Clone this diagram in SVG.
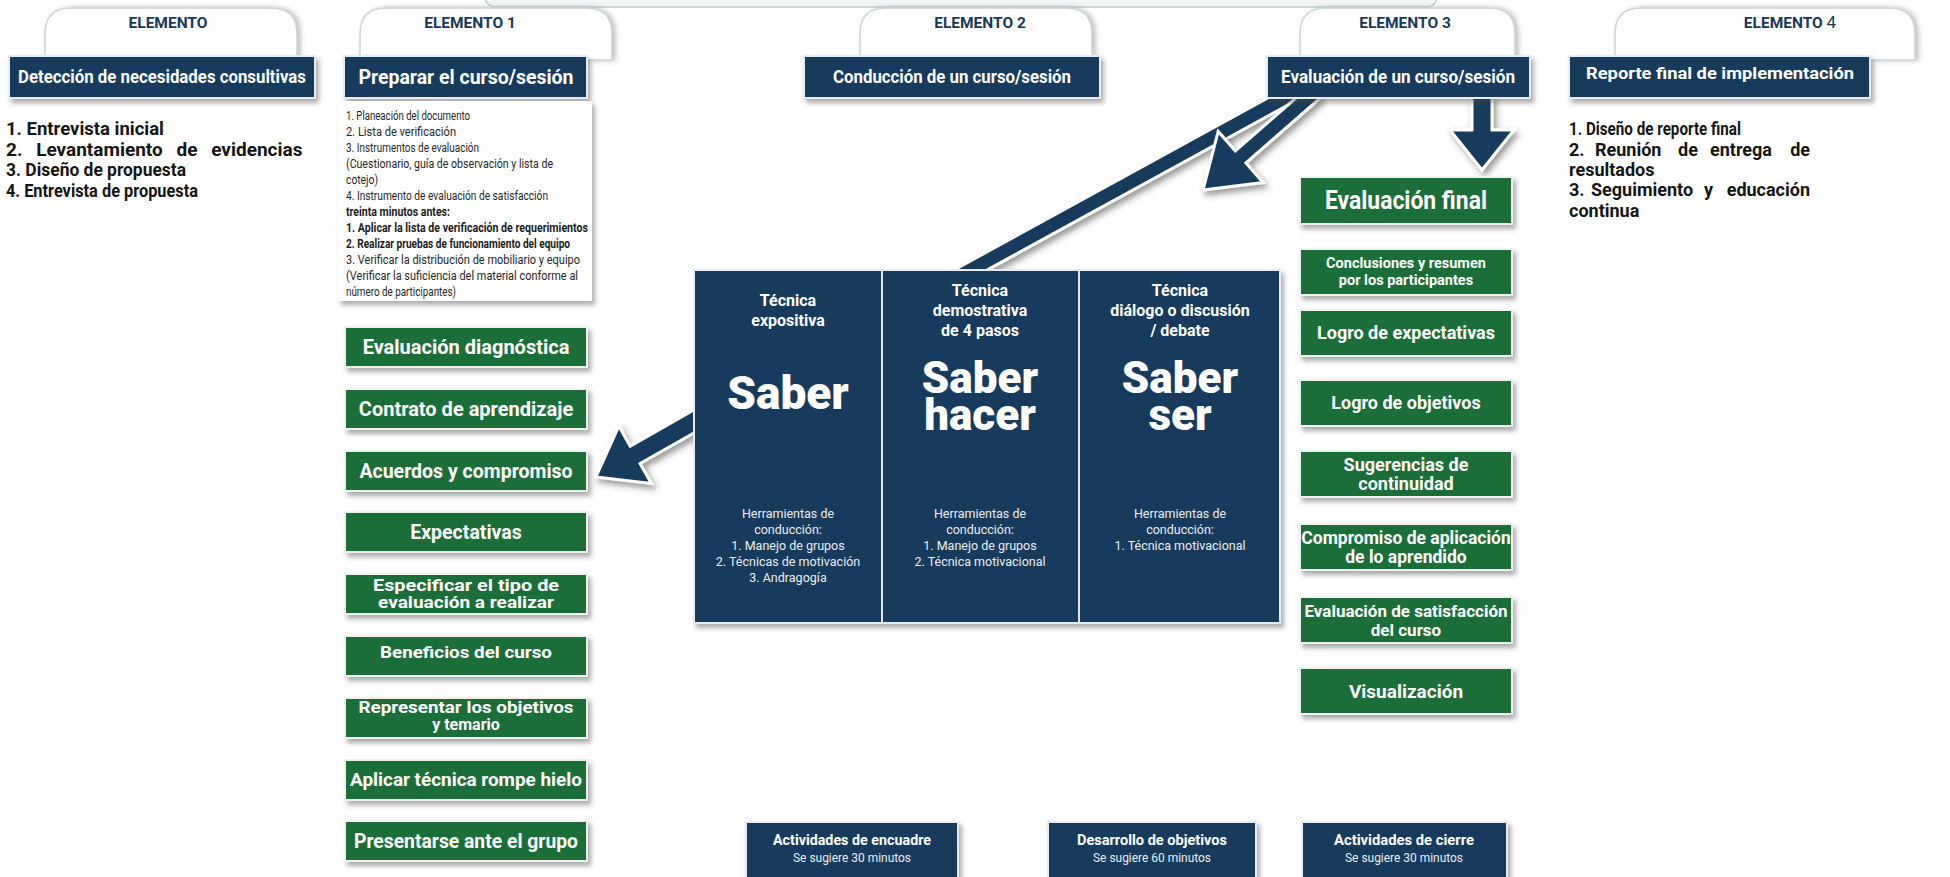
<svg xmlns="http://www.w3.org/2000/svg" width="1950" height="877" viewBox="0 0 1950 877">
  <defs>
    <filter id="sh" x="-10%" y="-20%" width="125%" height="160%">
      <feDropShadow dx="3" dy="4" stdDeviation="2.5" flood-color="#444" flood-opacity="0.45"/>
    </filter>
    <filter id="tsh" x="-10%" y="-20%" width="125%" height="150%">
      <feDropShadow dx="3" dy="0" stdDeviation="2.5" flood-color="#777" flood-opacity="0.45"/>
    </filter>
    <filter id="ash" x="-20%" y="-20%" width="150%" height="150%">
      <feDropShadow dx="3" dy="4" stdDeviation="3" flood-color="#333" flood-opacity="0.5"/>
    </filter>
    <style>
      text { font-family: Roboto, "Liberation Sans", sans-serif; }
      .tab { fill: #ffffff; stroke: #cfd5d9; stroke-width: 1.5; filter: url(#tsh); }
      .tabt { font-size: 15.5px; font-weight: bold; fill: #17395a; text-anchor: middle; }
      .hbox { fill: #133a5c; stroke: #e6ecf0; stroke-width: 2; filter: url(#sh); }
      .ht { font-size: 18px; font-weight: bold; fill: #ffffff; text-anchor: middle; }
      .gbox { fill: #1d6e38; stroke: #f0f2f0; stroke-width: 2; filter: url(#sh); }
      .gt { font-size: 17px; font-weight: bold; fill: #ffffff; text-anchor: middle; }
      .gt2 { font-size: 16px; font-weight: bold; fill: #ffffff; text-anchor: middle; }
      .list { font-size: 18px; font-weight: bold; fill: #151515; }
      .pt { font-size: 12.5px; fill: #262626; }
      .ptb { font-size: 12.5px; font-weight: bold; fill: #1a1a1a; }
      .panel { fill: #ffffff; filter: url(#sh); }
      .block { fill: #133a5c; stroke: #e6ecf0; stroke-width: 2; filter: url(#sh); }
      .div { stroke: #dfe7ee; stroke-width: 2; }
      .tech { font-size: 16px; font-weight: bold; fill: #ffffff; text-anchor: middle; }
      .big { font-size: 44px; font-weight: 900; fill: #ffffff; text-anchor: middle; }
      .tool { font-size: 12.5px; fill: #e8eef4; text-anchor: middle; }
      .bt { font-size: 15px; font-weight: bold; fill: #ffffff; text-anchor: middle; }
      .bs { font-size: 12.5px; fill: #e8eef4; text-anchor: middle; }
      .arrow { fill: #133a5c; stroke: #ffffff; stroke-width: 3; stroke-linejoin: miter; filter: url(#ash); }
    </style>
  </defs>

  <rect width="1950" height="877" fill="#ffffff"/>

  <!-- top banner edge -->
  <rect x="485" y="-30" width="952" height="37" rx="10" fill="#f1f5f5" stroke="#c4d1d1" stroke-width="1.5"/>

  <!-- connectors -->
  <g id="connectors">
    <polygon class="arrow" points="1291.2,85 940.4,277.4 948,291.4 1298.8,99"/>
    <polygon class="arrow" points="1309.7,86 1235.3,151 1218.2,131.4 1203,190 1263,182.6 1245.9,163 1320.3,98"/>
    <polygon class="arrow" points="1472,96 1492,96 1492,130 1514,130 1482,170 1450,130 1472,130"/>
    <polygon class="arrow" points="695.1,409.3 630.2,446.1 618.8,426.1 596,477 651.4,483.5 640,463.5 704.9,426.7"/>
  </g>

  <!-- ELEMENTO: needs detection -->
  <g id="elemento0">
    <path class="tab" d="M45,60 V34 Q45,8 71,8 H271 Q297,8 297,34 V60 Z"/>
    <text class="tabt" x="168" y="28">ELEMENTO</text>
    <rect class="hbox" x="9" y="56" width="306" height="42"/>
    <text class="ht" x="162" y="83" textLength="288" lengthAdjust="spacingAndGlyphs">Detección de necesidades consultivas</text>
    <text class="list" x="6" y="135" textLength="158" lengthAdjust="spacingAndGlyphs">1. Entrevista inicial</text>
    <text class="list" x="6" y="156" style="font-size:19px" word-spacing="9">2. Levantamiento de evidencias</text>
    <text class="list" x="6" y="176" textLength="180" lengthAdjust="spacingAndGlyphs">3. Diseño de propuesta</text>
    <text class="list" x="6" y="197" textLength="192" lengthAdjust="spacingAndGlyphs">4. Entrevista de propuesta</text>
  </g>

  <!-- ELEMENTO 1: preparation -->
  <g id="elemento1">
    <path class="tab" d="M360,60 V34 Q360,8 386,8 H586 Q612,8 612,34 V60 Z"/>
    <text class="tabt" x="470" y="28">ELEMENTO 1</text>
    <rect class="hbox" x="344" y="56" width="243" height="42"/>
    <text class="ht" x="466" y="84" style="font-size:20px" textLength="215" lengthAdjust="spacingAndGlyphs">Preparar el curso/sesión</text>
    <rect class="panel" x="338" y="101" width="254" height="200"/>
    <text class="pt" x="346" y="120" textLength="124" lengthAdjust="spacingAndGlyphs">1. Planeación del documento</text>
    <text class="pt" x="346" y="136" textLength="110" lengthAdjust="spacingAndGlyphs">2. Lista de verificación</text>
    <text class="pt" x="346" y="152" textLength="133" lengthAdjust="spacingAndGlyphs">3. Instrumentos de evaluación</text>
    <text class="pt" x="346" y="168" textLength="207" lengthAdjust="spacingAndGlyphs">(Cuestionario, guía de observación y lista de</text>
    <text class="pt" x="346" y="184" textLength="32" lengthAdjust="spacingAndGlyphs">cotejo)</text>
    <text class="pt" x="346" y="200" textLength="202" lengthAdjust="spacingAndGlyphs">4. Instrumento de evaluación de satisfacción</text>
    <text class="ptb" x="346" y="216" textLength="104" lengthAdjust="spacingAndGlyphs">treinta minutos antes:</text>
    <text class="ptb" x="346" y="232" textLength="242" lengthAdjust="spacingAndGlyphs">1. Aplicar la lista de verificación de requerimientos</text>
    <text class="ptb" x="346" y="248" textLength="224" lengthAdjust="spacingAndGlyphs">2. Realizar pruebas de funcionamiento del equipo</text>
    <text class="pt" x="346" y="264" textLength="234" lengthAdjust="spacingAndGlyphs">3. Verificar la distribución de mobiliario y equipo</text>
    <text class="pt" x="346" y="280" textLength="232" lengthAdjust="spacingAndGlyphs">(Verificar la suficiencia del material conforme al</text>
    <text class="pt" x="346" y="296" textLength="110" lengthAdjust="spacingAndGlyphs">número de participantes)</text>
  </g>

  <!-- framing activities (left column) -->
  <g id="encuadre-items">
    <rect class="gbox" x="345" y="327" width="242" height="40"/>
    <text class="gt" x="466" y="354" style="font-size:20px">Evaluación diagnóstica</text>
    <rect class="gbox" x="345" y="389" width="242" height="40"/>
    <text class="gt" x="466" y="416" style="font-size:20px">Contrato de aprendizaje</text>
    <rect class="gbox" x="345" y="451" width="242" height="40"/>
    <text class="gt" x="466" y="478" style="font-size:19.5px">Acuerdos y compromiso</text>
    <rect class="gbox" x="345" y="512" width="242" height="40"/>
    <text class="gt" x="466" y="539" style="font-size:19.5px">Expectativas</text>
    <rect class="gbox" x="345" y="574" width="242" height="40"/>
    <text class="gt2" x="466" y="591" textLength="186" lengthAdjust="spacingAndGlyphs">Especificar el tipo de</text>
    <text class="gt2" x="466" y="608" textLength="176" lengthAdjust="spacingAndGlyphs">evaluación a realizar</text>
    <rect class="gbox" x="345" y="636" width="242" height="40"/>
    <text class="gt" x="466" y="658" textLength="172" lengthAdjust="spacingAndGlyphs">Beneficios del curso</text>
    <rect class="gbox" x="345" y="698" width="242" height="40"/>
    <text class="gt2" x="466" y="713" textLength="215" lengthAdjust="spacingAndGlyphs">Representar los objetivos</text>
    <text class="gt2" x="466" y="730">y temario</text>
    <rect class="gbox" x="345" y="760" width="242" height="40"/>
    <text class="gt" x="466" y="786" style="font-size:19px" textLength="232" lengthAdjust="spacingAndGlyphs">Aplicar técnica rompe hielo</text>
    <rect class="gbox" x="345" y="821" width="242" height="40"/>
    <text class="gt" x="466" y="848" style="font-size:19.5px" textLength="224" lengthAdjust="spacingAndGlyphs">Presentarse ante el grupo</text>
  </g>

  <!-- ELEMENTO 2: conduction -->
  <g id="elemento2">
    <path class="tab" d="M860,60 V34 Q860,8 886,8 H1066 Q1092,8 1092,34 V60 Z"/>
    <text class="tabt" x="980" y="28">ELEMENTO 2</text>
    <rect class="hbox" x="804" y="56" width="296" height="42"/>
    <text class="ht" x="952" y="83" textLength="238" lengthAdjust="spacingAndGlyphs">Conducción de un curso/sesión</text>
  </g>

  <!-- techniques block -->
  <g id="tecnicas">
    <rect class="block" x="694" y="270" width="586" height="353"/>
    <line class="div" x1="882" y1="271" x2="882" y2="622"/>
    <line class="div" x1="1079" y1="271" x2="1079" y2="622"/>
    <text class="tech"><tspan x="788" y="306">Técnica</tspan><tspan x="788" dy="20">expositiva</tspan></text>
    <text class="big" x="788" y="409" style="font-size:46px">Saber</text>
    <text class="tool"><tspan x="788" y="518">Herramientas de</tspan><tspan x="788" dy="16">conducción:</tspan><tspan x="788" dy="16">1. Manejo de grupos</tspan><tspan x="788" dy="16">2. Técnicas de motivación</tspan><tspan x="788" dy="16">3. Andragogía</tspan></text>

    <text class="tech"><tspan x="980" y="296">Técnica</tspan><tspan x="980" dy="20">demostrativa</tspan><tspan x="980" dy="20">de 4 pasos</tspan></text>
    <text class="big"><tspan x="980" y="393">Saber</tspan><tspan x="980" dy="37">hacer</tspan></text>
    <text class="tool"><tspan x="980" y="518">Herramientas de</tspan><tspan x="980" dy="16">conducción:</tspan><tspan x="980" dy="16">1. Manejo de grupos</tspan><tspan x="980" dy="16">2. Técnica motivacional</tspan></text>

    <text class="tech"><tspan x="1180" y="296">Técnica</tspan><tspan x="1180" dy="20">diálogo o discusión</tspan><tspan x="1180" dy="20">/ debate</tspan></text>
    <text class="big"><tspan x="1180" y="393">Saber</tspan><tspan x="1180" dy="37">ser</tspan></text>
    <text class="tool"><tspan x="1180" y="518">Herramientas de</tspan><tspan x="1180" dy="16">conducción:</tspan><tspan x="1180" dy="16">1. Técnica motivacional</tspan></text>
  </g>

  <!-- ELEMENTO 3: evaluation -->
  <g id="elemento3">
    <path class="tab" d="M1300,60 V34 Q1300,8 1326,8 H1489 Q1515,8 1515,34 V60 Z"/>
    <text class="tabt" x="1405" y="28">ELEMENTO 3</text>
    <rect class="hbox" x="1267" y="56" width="263" height="42"/>
    <text class="ht" x="1398" y="83" textLength="234" lengthAdjust="spacingAndGlyphs">Evaluación de un curso/sesión</text>
  </g>

  <!-- closing items (right column) -->
  <g id="cierre-items">
    <rect class="gbox" x="1300" y="177" width="212" height="47"/>
    <text class="gt" x="1406" y="209" style="font-size:25px" textLength="162" lengthAdjust="spacingAndGlyphs">Evaluación final</text>
    <rect class="gbox" x="1300" y="249" width="212" height="46"/>
    <text class="gt" style="font-size:14.5px"><tspan x="1406" y="268">Conclusiones y resumen</tspan><tspan x="1406" dy="17">por los participantes</tspan></text>
    <rect class="gbox" x="1300" y="310" width="212" height="46"/>
    <text class="gt" x="1406" y="339" style="font-size:18px">Logro de expectativas</text>
    <rect class="gbox" x="1300" y="380" width="212" height="46"/>
    <text class="gt" x="1406" y="409" style="font-size:18px">Logro de objetivos</text>
    <rect class="gbox" x="1300" y="451" width="212" height="46"/>
    <text class="gt" style="font-size:18px"><tspan x="1406" y="471">Sugerencias de</tspan><tspan x="1406" dy="19">continuidad</tspan></text>
    <rect class="gbox" x="1300" y="524" width="212" height="46"/>
    <text class="gt" style="font-size:17.5px"><tspan x="1406" y="544">Compromiso de aplicación</tspan><tspan x="1406" dy="19">de lo aprendido</tspan></text>
    <rect class="gbox" x="1300" y="597" width="212" height="46"/>
    <text class="gt" style="font-size:17px"><tspan x="1406" y="617">Evaluación de satisfacción</tspan><tspan x="1406" dy="19">del curso</tspan></text>
    <rect class="gbox" x="1300" y="668" width="212" height="46"/>
    <text class="gt" x="1406" y="698" style="font-size:19px">Visualización</text>
  </g>

  <!-- ELEMENTO 4: final report -->
  <g id="elemento4">
    <path class="tab" d="M1615,60 V34 Q1615,8 1641,8 H1889 Q1915,8 1915,34 V60 Z"/>
    <text class="tabt" x="1790" y="28">ELEMENTO <tspan style="font-weight:normal;font-size:17px">4</tspan></text>
    <rect class="hbox" x="1569" y="56" width="301" height="42"/>
    <text class="ht" x="1720" y="79" style="font-size:17px" textLength="268" lengthAdjust="spacingAndGlyphs">Reporte final de implementación</text>
    <text class="list" x="1569" y="135" textLength="172" lengthAdjust="spacingAndGlyphs">1. Diseño de reporte final</text>
    <text class="list" y="156"><tspan x="1569">2.</tspan><tspan x="1595">Reunión</tspan><tspan x="1678">de</tspan><tspan x="1710">entrega</tspan></text>
    <text class="list" x="1810" y="156" text-anchor="end">de</text>
    <text class="list" x="1569" y="176">resultados</text>
    <text class="list" y="196"><tspan x="1569">3.</tspan><tspan x="1591">Seguimiento</tspan><tspan x="1704">y</tspan></text>
    <text class="list" x="1810" y="196" text-anchor="end">educación</text>
    <text class="list" x="1569" y="217">continua</text>
  </g>

  <!-- timing boxes -->
  <g id="actividades-encuadre">
    <rect class="hbox" x="746" y="822" width="212" height="60"/>
    <text class="bt" x="852" y="845" textLength="158" lengthAdjust="spacingAndGlyphs">Actividades de encuadre</text>
    <text class="bs" x="852" y="862" textLength="118" lengthAdjust="spacingAndGlyphs">Se sugiere 30 minutos</text>
  </g>
  <g id="desarrollo-objetivos">
    <rect class="hbox" x="1048" y="822" width="208" height="60"/>
    <text class="bt" x="1152" y="845" textLength="150" lengthAdjust="spacingAndGlyphs">Desarrollo de objetivos</text>
    <text class="bs" x="1152" y="862" textLength="118" lengthAdjust="spacingAndGlyphs">Se sugiere 60 minutos</text>
  </g>
  <g id="actividades-cierre">
    <rect class="hbox" x="1302" y="822" width="205" height="60"/>
    <text class="bt" x="1404" y="845" textLength="140" lengthAdjust="spacingAndGlyphs">Actividades de cierre</text>
    <text class="bs" x="1404" y="862" textLength="118" lengthAdjust="spacingAndGlyphs">Se sugiere 30 minutos</text>
  </g>
</svg>
